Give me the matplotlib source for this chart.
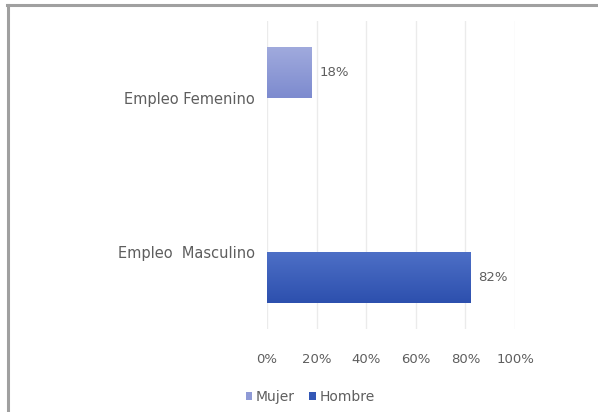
import numpy as np
import matplotlib
matplotlib.use("Agg")
import matplotlib.pyplot as plt
from matplotlib.lines import Line2D
from matplotlib.patches import Rectangle
from matplotlib.colors import LinearSegmentedColormap

categories = ["Empleo  Masculino", "Empleo Femenino"]
series_names = ["Mujer", "Hombre"]
mujer = [0, 18]
hombre = [82, 0]
xticks = [0, 20, 40, 60, 80, 100]
xtick_labels = ["0%", "20%", "40%", "60%", "80%", "100%"]

W, H = 598, 412
fig = plt.figure(figsize=(W / 100, H / 100), dpi=100)
fig.patch.set_facecolor("white")

ax = fig.add_axes([267 / W, 1 - 329 / H, 248 / W, 308 / H])
ax.set_xlim(0, 100)
ax.set_ylim(-0.5, 1.5)

text_color = "#5e5e5e"
font = "DejaVu Sans"
bh = 0.33
off = 0.166
y = np.arange(len(categories))

grads = {
    "Mujer": ("#a0aadd", "#7d8bcf"),
    "Hombre": ("#4d6fc6", "#2d50ae"),
}
legend_colors = {"Mujer": "#8f9ad6", "Hombre": "#3458b6"}

def grad_bar(ax, left, width, yc, h, c_top, c_bot):
    if width <= 0:
        return None
    cmap = LinearSegmentedColormap.from_list("g", [c_top, c_bot])
    grad = np.linspace(0, 1, 64).reshape(-1, 1)
    im = ax.imshow(grad, cmap=cmap, aspect="auto",
                   extent=[left, left + width, yc - h / 2, yc + h / 2],
                   origin="upper", zorder=2, interpolation="bicubic")
    rect = Rectangle((left, yc - h / 2), width, h, transform=ax.transData,
                     facecolor="none", edgecolor="none")
    ax.add_patch(rect)
    im.set_clip_path(rect)
    return rect

for vals, name, sign in [(mujer, "Mujer", 1), (hombre, "Hombre", -1)]:
    for yi, v in zip(y, vals):
        yc = yi + sign * off
        if v > 0:
            grad_bar(ax, 0, v, yc, bh, *grads[name])
            ax.text(v + 3.2, yc, f"{v}%", va="center", ha="left",
                    fontsize=9.5, color=text_color, family=font)

ax.set_xlim(0, 100)
ax.set_ylim(-0.5, 1.5)

ax.set_xticks(xticks)
ax.set_xticklabels(xtick_labels, fontsize=9.5, color=text_color, family=font)
ax.set_yticks(y)
ax.set_yticklabels(categories, fontsize=10.5, color=text_color, family=font)
ax.tick_params(axis="both", length=0)
ax.tick_params(axis="x", pad=17)
ax.tick_params(axis="y", pad=9)
ax.grid(axis="x", color="#ebebeb", linewidth=1.0, zorder=0)
ax.set_axisbelow(True)
for s in ax.spines.values():
    s.set_visible(False)

handles = [Rectangle((0, 0), 1, 1, facecolor=legend_colors[n]) for n in series_names]
leg = fig.legend(handles, series_names, loc="center", bbox_to_anchor=(310 / W, 1 - 397 / H),
                 ncol=2, frameon=False, handlelength=0.5, handleheight=0.5,
                 handletextpad=0.25, columnspacing=1.0,
                 prop={"family": font, "size": 10})
for t in leg.get_texts():
    t.set_color(text_color)

# outer border (top and left edges visible)
fig.add_artist(Line2D([7 / W, 1], [1 - 5 / H, 1 - 5 / H], color="#a0a0a0", linewidth=2.2,
                      transform=fig.transFigure))
fig.add_artist(Line2D([8 / W, 8 / W], [0, 1 - 5 / H], color="#a0a0a0", linewidth=2.2,
                      transform=fig.transFigure))

fig.savefig("out.png", dpi=100, facecolor="white")
